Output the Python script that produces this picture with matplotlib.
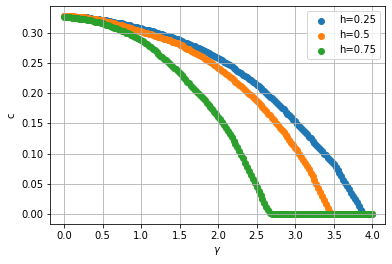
import numpy as np
from matplotlib import pyplot as plt

# gamma grid, step 0.025 from 0 to 4
gamma = np.round(np.arange(161) * 0.025, 3)

# values (8 per row = 0.2 in gamma)
c_025 = [0.327, 0.327, 0.327, 0.327, 0.327, 0.326, 0.326, 0.326,
         0.326, 0.325, 0.325, 0.325, 0.325, 0.324, 0.324, 0.323,
         0.323, 0.322, 0.322, 0.321, 0.321, 0.320, 0.320, 0.319,
         0.319, 0.318, 0.317, 0.316, 0.316, 0.315, 0.315, 0.314,
         0.313, 0.312, 0.312, 0.311, 0.310, 0.309, 0.309, 0.308,
         0.307, 0.306, 0.305, 0.304, 0.304, 0.303, 0.302, 0.301,
         0.300, 0.299, 0.298, 0.297, 0.296, 0.295, 0.294, 0.293,
         0.292, 0.291, 0.290, 0.289, 0.288, 0.286, 0.285, 0.283,
         0.282, 0.281, 0.280, 0.278, 0.277, 0.275, 0.274, 0.272,
         0.271, 0.269, 0.268, 0.266, 0.265, 0.263, 0.261, 0.259,
         0.258, 0.256, 0.254, 0.252, 0.250, 0.248, 0.246, 0.244,
         0.242, 0.239, 0.237, 0.235, 0.233, 0.230, 0.228, 0.226,
         0.224, 0.221, 0.219, 0.216, 0.214, 0.211, 0.208, 0.205,
         0.203, 0.200, 0.197, 0.194, 0.191, 0.188, 0.185, 0.182,
         0.179, 0.176, 0.173, 0.169, 0.166, 0.163, 0.160, 0.156,
         0.153, 0.149, 0.146, 0.142, 0.139, 0.135, 0.132, 0.128,
         0.125, 0.121, 0.118, 0.114, 0.111, 0.107, 0.104, 0.100,
         0.097, 0.093, 0.090, 0.086, 0.083, 0.078, 0.073, 0.068,
         0.063, 0.057, 0.052, 0.046, 0.041, 0.035, 0.030, 0.024,
         0.019, 0.013, 0.007, 0.002, 0.0, 0.0, 0.0, 0.0,
         0.0]

c_05 = [0.327, 0.327, 0.327, 0.327, 0.327, 0.327, 0.326, 0.326,
        0.326, 0.326, 0.325, 0.325, 0.324, 0.324, 0.323, 0.323,
        0.322, 0.322, 0.321, 0.321, 0.320, 0.319, 0.318, 0.318,
        0.317, 0.316, 0.315, 0.314, 0.313, 0.313, 0.312, 0.311,
        0.310, 0.309, 0.308, 0.307, 0.306, 0.305, 0.304, 0.303,
        0.302, 0.301, 0.300, 0.299, 0.298, 0.297, 0.296, 0.295,
        0.294, 0.293, 0.292, 0.291, 0.290, 0.289, 0.288, 0.287,
        0.285, 0.284, 0.283, 0.282, 0.280, 0.279, 0.277, 0.275,
        0.273, 0.272, 0.270, 0.268, 0.266, 0.265, 0.263, 0.261,
        0.259, 0.257, 0.255, 0.253, 0.251, 0.249, 0.246, 0.244,
        0.242, 0.240, 0.237, 0.235, 0.232, 0.230, 0.227, 0.225,
        0.222, 0.219, 0.216, 0.214, 0.211, 0.208, 0.205, 0.202,
        0.199, 0.196, 0.193, 0.190, 0.187, 0.184, 0.180, 0.177,
        0.173, 0.170, 0.166, 0.163, 0.159, 0.155, 0.151, 0.147,
        0.143, 0.139, 0.135, 0.131, 0.127, 0.123, 0.118, 0.114,
        0.109, 0.105, 0.100, 0.095, 0.090, 0.085, 0.080, 0.074,
        0.068, 0.062, 0.056, 0.050, 0.043, 0.037, 0.030, 0.023,
        0.016, 0.010, 0.003, 0.0, 0.0, 0.0, 0.0, 0.0,
        0.0, 0.0, 0.0, 0.0, 0.0, 0.0, 0.0, 0.0,
        0.0, 0.0, 0.0, 0.0, 0.0, 0.0, 0.0, 0.0,
        0.0]

c_075 = [0.325, 0.325, 0.325, 0.325, 0.324, 0.324, 0.324, 0.324,
         0.323, 0.323, 0.322, 0.322, 0.321, 0.321, 0.320, 0.319,
         0.318, 0.318, 0.317, 0.316, 0.315, 0.314, 0.313, 0.312,
         0.311, 0.310, 0.308, 0.307, 0.306, 0.305, 0.303, 0.302,
         0.300, 0.299, 0.297, 0.296, 0.294, 0.293, 0.291, 0.290,
         0.288, 0.286, 0.283, 0.281, 0.278, 0.276, 0.273, 0.271,
         0.268, 0.265, 0.262, 0.260, 0.257, 0.254, 0.251, 0.248,
         0.245, 0.242, 0.239, 0.236, 0.233, 0.230, 0.226, 0.223,
         0.219, 0.216, 0.212, 0.209, 0.205, 0.202, 0.198, 0.195,
         0.191, 0.188, 0.184, 0.181, 0.177, 0.173, 0.169, 0.165,
         0.161, 0.157, 0.152, 0.147, 0.142, 0.137, 0.132, 0.127,
         0.121, 0.116, 0.110, 0.104, 0.098, 0.092, 0.085, 0.078,
         0.071, 0.065, 0.058, 0.052, 0.045, 0.038, 0.031, 0.025,
         0.018, 0.012, 0.006, 0.002, 0.0, 0.0, 0.0, 0.0,
         0.0, 0.0, 0.0, 0.0, 0.0, 0.0, 0.0, 0.0,
         0.0, 0.0, 0.0, 0.0, 0.0, 0.0, 0.0, 0.0,
         0.0, 0.0, 0.0, 0.0, 0.0, 0.0, 0.0, 0.0,
         0.0, 0.0, 0.0, 0.0, 0.0, 0.0, 0.0, 0.0,
         0.0, 0.0, 0.0, 0.0, 0.0, 0.0, 0.0, 0.0,
         0.0, 0.0, 0.0, 0.0, 0.0, 0.0, 0.0, 0.0,
         0.0]

series = [(c_025, "h=0.25"), (c_05, "h=0.5"), (c_075, "h=0.75")]

fig = plt.figure(figsize=(392 / 72, 264 / 72), dpi=72)
ax = fig.add_axes([0.128, 0.152, 0.854, 0.824])

for vals, lab in series:
    ax.scatter(gamma, vals, label=lab)

ax.set_xlim(-0.18, 4.165)
ax.set_xlabel(r"$\gamma$")
ax.set_ylabel("c")
ax.grid(True)
ax.legend(loc="upper right")

fig.savefig("out.png", dpi=72)
